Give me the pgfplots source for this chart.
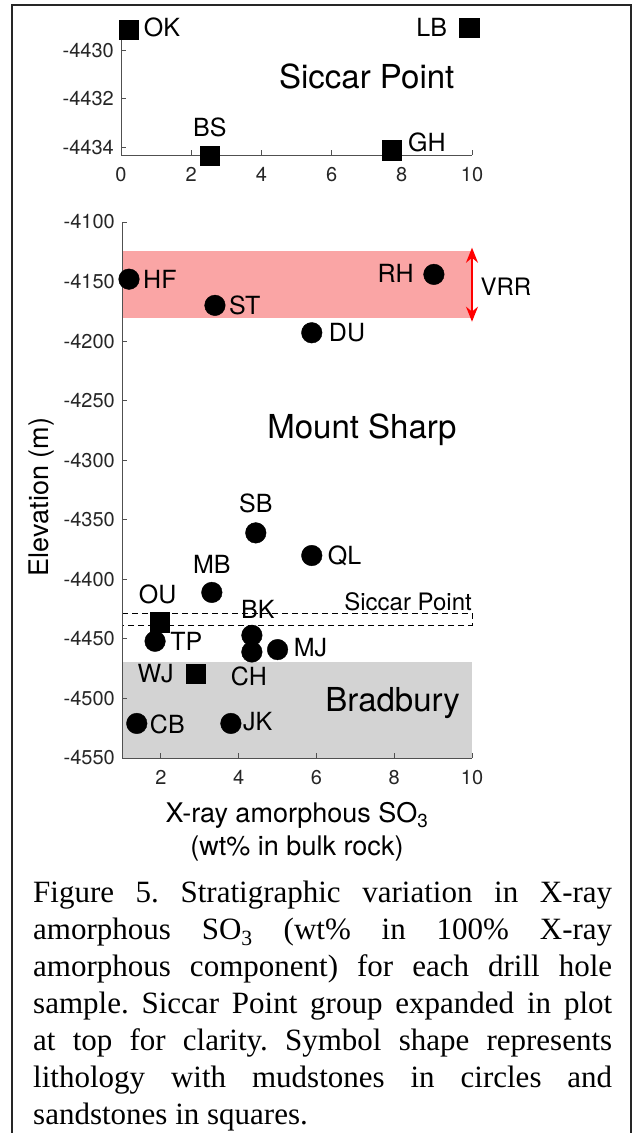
\documentclass[border=0pt]{standalone}
\usepackage{fontspec}
\setmainfont{Liberation Serif}
\setsansfont{TeX Gyre Heros}
\usepackage{pgfplots}
\pgfplotsset{compat=1.18}
\usetikzlibrary{arrows.meta}
\definecolor{vrr}{RGB}{250,165,165}
\definecolor{brad}{RGB}{211,211,211}
\definecolor{axgray}{RGB}{80,80,80}
\newcommand{\lab}{\fontsize{25}{30}\selectfont\sffamily}
\newcommand{\reglab}{\fontsize{33}{38}\selectfont\sffamily}
\tikzset{lbl/.style={font=\lab, inner sep=0pt, text=black}}
\pgfplotsset{
  base/.style={
    scale only axis,
    axis lines=left,
    axis line style={-, axgray, line width=0.8pt},
    tick align=inside,
    major tick length=5pt,
    tick style={axgray, line width=0.8pt},
    tick label style={font=\fontsize{20}{23}\selectfont\sffamily, text=black!85, inner sep=0pt},
    /pgf/number format/assume math mode=true,
    /pgf/number format/1000 sep={},
    xticklabel style={anchor=north, yshift=-12pt},
    yticklabel style={anchor=east, xshift=-7pt},
    clip=false,
    axis on top,
  },
}
\pgfplotstableread{
x y
0.22 -4429.14
9.92 -4429.07
2.53 -4434.35
7.72 -4434.12
}\siccar
\pgfplotstableread{
x y
1.18 -4148
3.39 -4170
5.88 -4193
9.02 -4144
4.44 -4361
5.88 -4380
3.31 -4411
4.34 -4447
4.34 -4461
5.00 -4459
1.85 -4452
1.38 -4521
3.80 -4521
}\mud
\pgfplotstableread{
x y
1.97 -4436
2.90 -4479
}\sand
\begin{document}
\begin{tikzpicture}
\useasboundingbox (0pt,0pt) rectangle (632pt,1133pt);
\fill[white] (0pt,0pt) rectangle (632pt,1133pt);
% top axis
\begin{axis}[base, at={(121pt,978pt)}, anchor=south west, width=351pt, height=129pt,
  xmin=0, xmax=10, ymin=-4434.32, ymax=-4429,
  xtick={0,2,4,6,8,10}, ytick={-4434,-4432,-4430}]
\addplot[only marks, mark=square*, mark size=9.6pt, black] table {\siccar};
\node[lbl, anchor=west, xshift=15pt, yshift=1.5pt] at (axis cs:0.22,-4429.14) {OK};
\node[lbl, anchor=east, xshift=-22pt, yshift=0.5pt] at (axis cs:9.92,-4429.07) {LB};
\node[lbl, anchor=base, yshift=19pt] at (axis cs:2.53,-4434.35) {BS};
\node[lbl, anchor=west, xshift=16pt, yshift=8pt] at (axis cs:7.72,-4434.12) {GH};
\node[font=\reglab, inner sep=0pt] at (axis cs:7.0,-4431.1) {Siccar Point};
\end{axis}
% bottom axis
\begin{axis}[base, at={(122pt,375pt)}, anchor=south west, width=350pt, height=536pt,
  xmin=1, xmax=10, ymin=-4550, ymax=-4100,
  xtick={2,4,6,8,10}, ytick={-4550,-4500,-4450,-4400,-4350,-4300,-4250,-4200,-4150,-4100}]
\addplot[fill=vrr, draw=none] coordinates {(1,-4124) (10,-4124) (10,-4181) (1,-4181)} -- cycle;
\addplot[fill=brad, draw=none] coordinates {(1,-4469.5) (10,-4469.5) (10,-4550) (1,-4550)} -- cycle;
\addplot[black, line width=0.9pt, dash pattern=on 6pt off 4pt] coordinates {(1,-4428.3) (10,-4428.3) (10,-4438.4) (1,-4438.4)} -- cycle;
\addplot[red, line width=1.5pt, {Stealth[length=15pt,width=12pt]}-{Stealth[length=15pt,width=12pt]}] coordinates {(10,-4121.6) (10,-4183.7)};
\addplot[only marks, mark=*, mark size=10.3pt, black] table {\mud};
\addplot[only marks, mark=square*, mark size=9.6pt, black] table {\sand};
\node[lbl, anchor=west, xshift=14pt] at (axis cs:1.18,-4148) {HF};
\node[lbl, anchor=west, xshift=14pt] at (axis cs:3.39,-4170) {ST};
\node[lbl, anchor=west, xshift=17pt] at (axis cs:5.88,-4193) {DU};
\node[lbl, anchor=east, xshift=-20pt, yshift=1pt] at (axis cs:9.02,-4144) {RH};
\node[lbl, anchor=base, yshift=20pt] at (axis cs:4.44,-4361) {SB};
\node[lbl, anchor=west, xshift=16pt] at (axis cs:5.88,-4380) {QL};
\node[lbl, anchor=base, yshift=19pt] at (axis cs:3.31,-4411) {MB};
\node[lbl, anchor=base, yshift=19pt, xshift=-2pt] at (axis cs:1.97,-4436) {OU};
\node[lbl, anchor=base, yshift=17pt, xshift=6pt] at (axis cs:4.34,-4447) {BK};
\node[lbl, anchor=west, xshift=15pt] at (axis cs:1.85,-4452) {TP};
\node[lbl, anchor=west, xshift=16pt, yshift=2pt] at (axis cs:5.00,-4459) {MJ};
\node[lbl, anchor=east, xshift=-22pt] at (axis cs:2.90,-4479) {WJ};
\node[lbl, anchor=north, yshift=-15pt, xshift=-3pt] at (axis cs:4.34,-4461) {CH};
\node[lbl, anchor=west, xshift=13pt, yshift=-1pt] at (axis cs:1.38,-4521) {CB};
\node[lbl, anchor=west, xshift=12pt, yshift=2pt] at (axis cs:3.80,-4521) {JK};
\node[font=\fontsize{24}{28}\selectfont\sffamily, inner sep=0pt, anchor=base east] at (axis cs:10,-4425.8) {Siccar Point};
\node[font=\fontsize{24}{28}\selectfont\sffamily, inner sep=0pt] at (axis cs:10.87,-4154.6) {VRR};
\node[font=\reglab, inner sep=0pt] at (axis cs:7.17,-4274.6) {Mount Sharp};
\node[font=\reglab, inner sep=0pt] at (axis cs:7.96,-4503.9) {Bradbury};
\end{axis}
% axis titles
\node[rotate=90, font=\fontsize{27}{32}\selectfont\sffamily, inner sep=0pt] at (42pt,636pt) {Elevation (m)};
\node[align=center, font=\fontsize{27}{33}\selectfont\sffamily, anchor=north, inner sep=0pt] at (297pt,331pt) {X-ray amorphous SO\textsubscript{3}\\(wt\% in bulk rock)};
% caption
\node[anchor=north west, inner sep=0pt, text width=579pt, align=justify, font=\fontsize{31}{37}\selectfont\rmfamily] at (33pt,252pt)
{\frenchspacing\hyphenpenalty10000 Figure 5. Stratigraphic variation in X-ray\linebreak amorphous SO\textsubscript{3} (wt\% in 100\% X-ray\linebreak amorphous component) for each drill hole\linebreak sample. Siccar Point group expanded in plot\linebreak at top for clarity. Symbol shape represents\linebreak lithology with mudstones in circles and\linebreak sandstones in squares.};
% frame
\draw[line width=1.5pt, black!85] (12pt,0pt) -- (12pt,1128pt) -- (630.8pt,1128pt) -- (630.8pt,0pt);
\end{tikzpicture}
\end{document}
